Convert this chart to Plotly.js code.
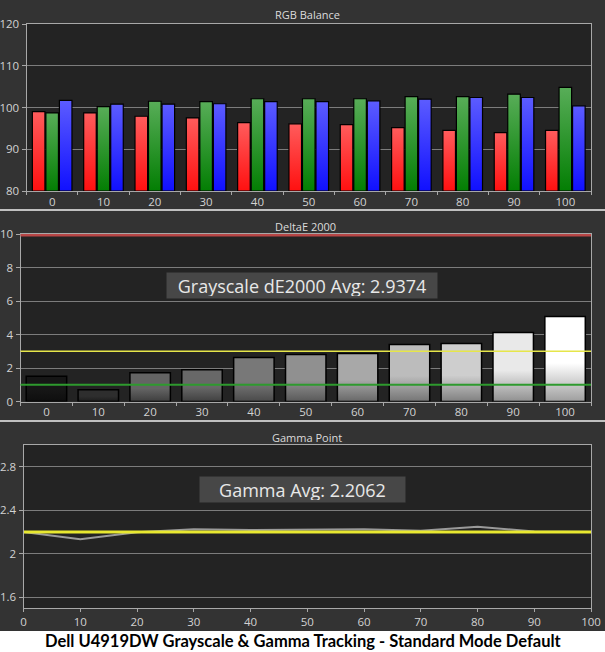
<!DOCTYPE html>
<html>
<head>
<meta charset="utf-8">
<script src="https://cdn.plot.ly/plotly-3.0.1.min.js"></script>
<style>
  html, body { margin: 0; padding: 0; background: #ffffff; }
  #grafico { width: 605px; height: 652px; }
</style>
</head>
<body>
<div id="grafico"></div>
<script>
// DATOS
var niveles = ['0', '10', '20', '30', '40', '50', '60', '70', '80', '90', '100'];

var rojo  = [99.0, 98.7, 97.9, 97.5, 96.4, 96.1, 95.9, 95.2, 94.5, 94.0, 94.5];
var verde = [98.7, 100.2, 101.5, 101.4, 102.1, 102.1, 102.1, 102.6, 102.6, 103.2, 104.8];
var azul  = [101.7, 100.8, 100.8, 100.9, 101.4, 101.4, 101.6, 102.0, 102.4, 102.4, 100.4];
var rgbPiso = 80;

var deltaE = [1.5, 0.7, 1.72, 1.9, 2.62, 2.8, 2.86, 3.4, 3.46, 4.12, 5.08];
var limiteRojo = 10, limiteAmarillo = 3, limiteVerde = 1;

var gammaX = [0, 10, 20, 30, 40, 50, 60, 70, 80, 90, 100];
var gamma  = [2.2, 2.133, 2.197, 2.224, 2.218, 2.218, 2.224, 2.212, 2.248, 2.203, 2.2];
var gammaObjetivo = [2.2, 2.2, 2.2, 2.2, 2.2, 2.2, 2.2, 2.2, 2.2, 2.2, 2.2];

var gammaTicks = [1.6, 2, 2.4, 2.8];
var gammaTickTxt = ['1.6', '2', '2.4', '2.8'];

var txtDeltaE = 'Grayscale dE2000 Avg: 2.9374';
var txtGamma = 'Gamma Avg: 2.2062';
var txtPie = 'Dell U4919DW Grayscale &amp; Gamma Tracking - Standard Mode Default';

// tonos de las barras de gris (solo estilo)
var grises = ['#161616', '#2e2e2e', '#646464', '#686868', '#787878', '#909090',
              '#a8a8a8', '#bcbcbc', '#cecece', '#e9e9e9', '#ffffff'];

//GRAFICA
var H = 652, W = 605;
function py(pix) { return (H - pix) / H; }
function px(pix) { return pix / W; }

var borde = {color: '#000000', width: 1.2};

var trace1 = {
  x: niveles, y: rojo.map(function (v) { return v - rgbPiso; }), base: rgbPiso,
  type: 'bar', xaxis: 'x', yaxis: 'y', marker: {color: '#ff3030', line: borde}
};
var trace2 = {
  x: niveles, y: verde.map(function (v) { return v - rgbPiso; }), base: rgbPiso,
  type: 'bar', xaxis: 'x', yaxis: 'y', marker: {color: '#2a942a', line: borde}
};
var trace3 = {
  x: niveles, y: azul.map(function (v) { return v - rgbPiso; }), base: rgbPiso,
  type: 'bar', xaxis: 'x', yaxis: 'y', marker: {color: '#3030ff', line: borde}
};
var trace4 = {
  x: niveles, y: deltaE, type: 'bar', xaxis: 'x2', yaxis: 'y2', width: 0.78,
  marker: {color: grises, line: {color: '#000000', width: 1.5}}
};
var trace5 = {
  x: gammaX, y: gamma, type: 'scatter', mode: 'lines', xaxis: 'x3', yaxis: 'y3',
  line: {color: '#9a9a9a', width: 2}
};
var trace6 = {
  x: gammaX, y: gammaObjetivo, type: 'scatter', mode: 'lines', xaxis: 'x3', yaxis: 'y3',
  line: {color: '#e8e830', width: 3}
};

var data = [trace1, trace2, trace3, trace4, trace5, trace6];

var ejeComun = {
  showline: true, mirror: true, linecolor: '#a8a8a8', linewidth: 1,
  ticks: 'outside', tickcolor: '#a8a8a8', ticklen: 4, zeroline: false,
  gridcolor: '#7c7c7c', gridwidth: 1, fixedrange: true,
  tickfont: {family: 'Open Sans, sans-serif', size: 11.5, color: '#d2d2d2'}
};
function eje(extra) { return Object.assign({}, ejeComun, extra); }

function titulo(x, y, texto) {
  return {xref: 'paper', yref: 'paper', x: px(x), y: py(y), xanchor: 'center', yanchor: 'middle',
          text: texto, showarrow: false, font: {size: 11, color: '#dcdcdc'}};
}

var layout = {
  width: W, height: H,
  margin: {l: 0, r: 0, t: 0, b: 0},
  paper_bgcolor: '#333333', plot_bgcolor: '#232323',
  showlegend: false, hovermode: false,
  barmode: 'group', bargap: 0.21, bargroupgap: 0.07,
  font: {family: 'Open Sans, sans-serif', color: '#cfcfcf', size: 11},

  xaxis: eje({domain: [px(26.5), px(591)], anchor: 'y', type: 'category',
              tickson: 'boundaries', ticklen: 3, showgrid: false}),
  yaxis: eje({domain: [py(191), py(24)], anchor: 'x', range: [80, 120], dtick: 10}),

  xaxis2: eje({domain: [px(20.5), px(591)], anchor: 'y2', type: 'category',
               tickson: 'boundaries', ticklen: 3, showgrid: false}),
  yaxis2: eje({domain: [py(401.5), py(234)], anchor: 'x2', range: [0, 10], dtick: 2}),

  xaxis3: eje({domain: [px(23.5), px(591)], anchor: 'y3', range: [0, 100], dtick: 10,
               ticklen: 3, showgrid: false}),
  yaxis3: eje({domain: [py(608), py(445)], anchor: 'x3', range: [1.5, 3.0],
               tickvals: gammaTicks, ticktext: gammaTickTxt}),

  shapes: [
    {type: 'line', xref: 'x2 domain', yref: 'y2', x0: 0, x1: 1, y0: limiteVerde, y1: limiteVerde,
     line: {color: '#2e9a2e', width: 2}},
    {type: 'line', xref: 'x2 domain', yref: 'y2', x0: 0, x1: 1, y0: limiteAmarillo, y1: limiteAmarillo,
     line: {color: '#e6e64a', width: 1.5}},
    {type: 'line', xref: 'x2 domain', yref: 'y2', x0: 0, x1: 1, y0: limiteRojo, y1: limiteRojo,
     line: {color: '#b84646', width: 5}},
    {type: 'line', xref: 'paper', yref: 'paper', x0: 0, x1: 1, y0: py(210), y1: py(210),
     line: {color: '#f0f0f0', width: 1.5}},
    {type: 'line', xref: 'paper', yref: 'paper', x0: 0, x1: 1, y0: py(421), y1: py(421),
     line: {color: '#f0f0f0', width: 1.5}},
    {type: 'rect', xref: 'paper', yref: 'paper', x0: 0, x1: 1, y0: 0, y1: py(631),
     fillcolor: '#ffffff', line: {width: 0}, layer: 'above'}
  ],

  annotations: [
    titulo(308, 15, 'RGB Balance'),
    titulo(305, 226, 'DeltaE 2000'),
    titulo(307, 437, 'Gamma Point'),
    {xref: 'paper', yref: 'paper', x: px(302), y: py(285.5), xanchor: 'center', yanchor: 'middle',
     text: txtDeltaE, showarrow: false,
     bgcolor: '#474747', width: 266, height: 21, borderpad: 2,
     font: {family: 'Open Sans, sans-serif', size: 18, color: '#e8e8e8'}},
    {xref: 'paper', yref: 'paper', x: px(302.5), y: py(489.5), xanchor: 'center', yanchor: 'middle',
     text: txtGamma, showarrow: false,
     bgcolor: '#474747', width: 201, height: 21, borderpad: 2,
     font: {family: 'Open Sans, sans-serif', size: 18, color: '#e8e8e8'}},
    {xref: 'paper', yref: 'paper', x: px(303), y: py(641), xanchor: 'center', yanchor: 'middle',
     text: '<b>' + txtPie + '</b>', showarrow: false,
     font: {family: 'Lato, sans-serif', size: 16.5, color: '#000000'}}
  ]
};

Plotly.newPlot("grafico", data, layout, {staticPlot: true, displayModeBar: false}).then(pintar_degradados);

function aclarar(hex, f) {
  var n = parseInt(hex.slice(1), 16);
  var r = (n >> 16) & 255, g = (n >> 8) & 255, b = n & 255;
  function c(v) { return Math.max(0, Math.min(255, Math.round(v))); }
  return 'rgb(' + c(r * f) + ',' + c(g * f) + ',' + c(b * f) + ')';
}

function crear_degradado(defs, id, stops) {
  var ns = 'http://www.w3.org/2000/svg';
  var lg = document.createElementNS(ns, 'linearGradient');
  lg.setAttribute('id', id);
  lg.setAttribute('x1', '0'); lg.setAttribute('y1', '0');
  lg.setAttribute('x2', '0'); lg.setAttribute('y2', '1');
  for (var i = 0; i < stops.length; i++) {
    var s = document.createElementNS(ns, 'stop');
    s.setAttribute('offset', stops[i][0]);
    s.setAttribute('stop-color', stops[i][1]);
    lg.appendChild(s);
  }
  defs.appendChild(lg);
}

function pintar_degradados(gd) {
  var defs = gd.querySelector('svg.main-svg defs');
  crear_degradado(defs, 'gRojo', [['0', '#ff5c5c'], ['1', '#ff1010']]);
  crear_degradado(defs, 'gVerde', [['0', '#58ad58'], ['1', '#037e03']]);
  crear_degradado(defs, 'gAzul', [['0', '#5c5cff'], ['1', '#1010ff']]);
  for (var j = 0; j < grises.length; j++) {
    crear_degradado(defs, 'gGris' + j, [['0', grises[j]], ['0.55', grises[j]], ['1', aclarar(grises[j], 0.62)]]);
  }
  var capas = gd.querySelectorAll('.barlayer .trace');
  var nombres = ['gRojo', 'gVerde', 'gAzul'];
  for (var t = 0; t < capas.length; t++) {
    var barras = capas[t].querySelectorAll('.point path');
    for (var k = 0; k < barras.length; k++) {
      var id = t < 3 ? nombres[t] : 'gGris' + k;
      barras[k].style.fill = 'url(#' + id + ')';
    }
  }
}
</script>
</body>
</html>
